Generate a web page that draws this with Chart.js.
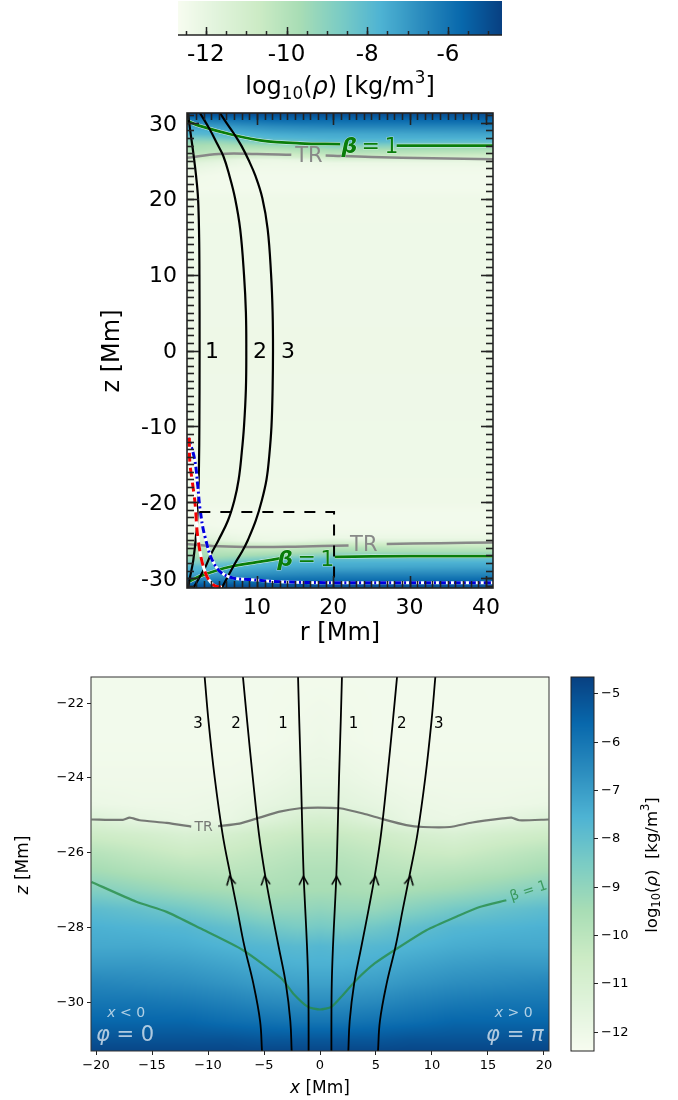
<!DOCTYPE html>
<html>
<head>
<meta charset="utf-8">
<title>Density</title>
<script src="https://cdn.jsdelivr.net/npm/chart.js@4/dist/chart.umd.min.js"></script>
<style>
    html, body { margin: 0; padding: 0; background: #fff; }
    #page { position: relative; width: 678px; height: 1100px; overflow: hidden; }
    canvas { position: absolute; }
</style>
</head>
<body>
<div id="page">
    <canvas id="cbarTop" style="left:0;top:0" width="678" height="105"></canvas>
    <canvas id="panelR" style="left:0;top:105px" width="678" height="545"></canvas>
    <canvas id="panelX" style="left:0;top:660px" width="560" height="440"></canvas>
    <canvas id="cbarSide" style="left:560px;top:660px" width="118" height="440"></canvas>
</div>
<script>
// Colormap (GnBu), low to high
const gnbuStops = ['#f7fcf0', '#e0f3db', '#ccebc5', '#a8ddb5', '#7bccc4', '#4eb3d3', '#2b8cbe', '#0868ac', '#084081'];

// log10(rho): one row per |z|, one column per r
const rhoR = [0, 2, 5, 8, 12, 16, 20, 41];
const rhoZ = [0, 20, 21.3, 23, 24, 24.7, 25.1, 25.5, 26, 26.5, 27, 27.5, 28, 28.5, 29, 29.5, 30, 30.5, 31, 31.4];
const rhoCells = [
    [-12.0, -12.0, -12.0, -12.0, -12.0, -12.0, -12.0, -12.0],
    [-12.05, -12.05, -12.05, -12.05, -12.05, -12.05, -12.05, -12.05],
    [-12.2, -12.2, -12.2, -12.2, -12.2, -12.2, -12.2, -12.2],
    [-12.0, -12.1, -12.2, -12.2, -12.2, -12.2, -12.2, -12.2],
    [-11.8, -11.8, -12.0, -12.1, -12.1, -12.1, -12.1, -12.1],
    [-11.5, -11.5, -11.7, -11.9, -12.0, -12.0, -11.9, -11.9],
    [-10.9, -11.0, -11.4, -11.8, -11.9, -11.7, -11.3, -11.6],
    [-10.4, -10.4, -10.6, -10.9, -11.1, -10.8, -10.6, -10.8],
    [-10.0, -10.0, -10.2, -10.4, -10.5, -10.2, -9.9, -10.2],
    [-9.7, -9.7, -9.9, -10.0, -9.9, -9.7, -9.4, -9.6],
    [-9.5, -9.5, -9.6, -9.5, -9.3, -9.0, -8.7, -8.8],
    [-9.0, -9.1, -9.1, -8.8, -8.4, -8.1, -7.9, -8.0],
    [-8.4, -8.5, -8.3, -8.0, -7.7, -7.6, -7.5, -7.5],
    [-7.7, -7.8, -7.7, -7.6, -7.4, -7.3, -7.3, -7.2],
    [-7.5, -7.5, -7.4, -7.2, -7.0, -6.9, -6.9, -6.8],
    [-7.1, -7.1, -7.0, -6.8, -6.6, -6.5, -6.4, -6.4],
    [-6.6, -6.6, -6.5, -6.3, -6.1, -6.0, -6.0, -5.9],
    [-6.0, -6.0, -5.9, -5.8, -5.6, -5.6, -5.6, -5.5],
    [-5.2, -5.2, -5.2, -5.1, -5.1, -5.1, -5.1, -5.1],
    [-4.7, -4.7, -4.7, -4.7, -4.7, -4.7, -4.7, -4.7]
];

// Ticks
const cbarTopTicks = [-12, -10, -8, -6];
const cbarSideTicks = [-12, -11, -10, -9, -8, -7, -6, -5];
const panelRTicksX = [10, 20, 30, 40];
const panelRTicksY = [-30, -20, -10, 0, 10, 20, 30];
const panelXTicksX = [-20, -15, -10, -5, 0, 5, 10, 15, 20];
const panelXTicksY = [-30, -28, -26, -24, -22];

// Upper panel, field lines
const line1Z = [31.3, 29, 26, 23, 20, 15, 10, 0, -10, -15, -20, -24, -27.6, -30, -31.3];
const line1R = [0.95, 1.25, 1.66, 2.02, 2.28, 2.42, 2.46, 2.48, 2.45, 2.4, 2.28, 2.05, 1.66, 1.2, 0.95];
const line2Z = [31.3, 29.1, 27.3, 25.6, 23, 20.1, 16, 10, 5, 0, -5, -10, -13.5, -17, -19.7, -22.4, -25, -27, -28.5, -31.3];
const line2R = [2.53, 3.84, 4.75, 5.6, 6.4, 7.12, 7.8, 8.3, 8.55, 8.6, 8.55, 8.3, 8.0, 7.6, 7.05, 6.2, 4.95, 3.9, 3.25, 1.66];
const line3Z = [31.3, 30, 28.7, 27, 25.1, 23, 20.1, 16, 10, 5, 0, -5, -10, -14, -17, -19.7, -22.4, -25, -26.5, -28, -31.3];
const line3R = [5.15, 6, 6.9, 7.95, 8.9, 9.8, 10.7, 11.4, 11.85, 12.05, 12.1, 12.05, 11.9, 11.6, 11.25, 10.65, 9.85, 8.8, 8.05, 7.15, 5.38];

// Upper panel, contours (null leaves the gap for the contour label)
const trTopR = [0.8, 5, 10, 14.5, null, 19, 25, 33, 41];
const trTopZ = [25.4, 25.9, 25.9, 25.8, null, 25.7, 25.5, 25.35, 25.2];
const trBottomR = [0.8, 5, 10, 15, 22, null, 27, 34, 41];
const trBottomZ = [-25.5, -25.8, -25.9, -25.85, -25.7, null, -25.5, -25.4, -25.3];
const betaTopR = [0.8, 2.5, 6.9, 10.4, 15.6, 20.9, null, 28.3, 41];
const betaTopZ = [30.3, 29.6, 28.4, 27.7, 27.3, 27.2, null, 27, 27];
const betaBottomR = [1.2, 2.9, 6.5, 10, 13, null, 20.2, 30, 41];
const betaBottomZ = [-30.4, -29.6, -28.5, -27.9, -27.4, null, -27.2, -27.1, -27.1];

// Upper panel, red and blue profiles
const redR = [1.13, 1.2, 1.53, 1.88, 2.3, 3.2, 4.28, 5.4];
const redZ = [-11.5, -14.7, -17.3, -20.1, -25, -29.2, -30.9, -31.2];
const blueR = [1.0, 1.8, 2.23, 2.53, 3.2, 4.5, 6.25, 9.3, 13.7, 20.5, 41];
const blueZ = [-11.5, -14.2, -17.7, -20.8, -24.6, -28.3, -29.8, -30.2, -30.5, -30.6, -30.6];
const boxR = [2.45, 20.1, 20.1];
const boxZ = [-21.3, -21.3, -31.3];

// Lower panel, field lines share the z values
const fieldZ = [-21.3, -22.5, -24, -25.5, -26.6, -27.5, -28.5, -29.5, -30.5, -31.3];
const fieldX1 = [1.96, 1.85, 1.7, 1.57, 1.46, 1.32, 1.16, 1.05, 1.02, 1.02];
const fieldX2 = [6.88, 6.5, 6.0, 5.45, 4.9, 4.35, 3.7, 3.05, 2.65, 2.53];
const fieldX3 = [10.3, 9.95, 9.4, 8.7, 8.0, 7.4, 6.75, 5.95, 5.35, 5.18];
const arrowX = [-8.0, -4.9, -1.47, 1.47, 4.9, 8.0];
const arrowZ = [-26.75, -26.75, -26.75, -26.75, -26.75, -26.75];
const arrowTilt = [-12, -8, -2, 2, 8, 12];

// Lower panel, contours
const trX = [-20.4, -17.6, -17, -16.1, -13.7, -11.5, null, -9.1, -7.2, -5.4, -3.6, -1.8, -0.2, 1.76, 3.84, 5.6, 7.7, 9.2, 11.6, 13.6, 16.3, 17.1, 17.8, 20.4];
const trZ = [-25.11, -25.12, -25.06, -25.13, -25.2, -25.3, null, -25.29, -25.22, -25.06, -24.9, -24.81, -24.79, -24.81, -24.95, -25.1, -25.26, -25.31, -25.31, -25.19, -25.08, -25.06, -25.13, -25.11];
const betaX = [-20.4, -16.4, -13.7, -10.7, -6.9, -3.45, -2.4, -1.07, 0, 1.02, 2.05, 3.25, 4.88, 6.67, 9.5, 12.47, 14.26, 16.64];
const betaZ = [-26.78, -27.31, -27.58, -28.02, -28.6, -29.36, -29.76, -30.12, -30.19, -30.12, -29.8, -29.4, -28.96, -28.6, -28.07, -27.67, -27.45, -27.27];

const FONT = '"DejaVu Sans"';
const zip = (xs, ys) => xs.map((x, i) => ({ x, y: ys[i] }));
const mirror = xs => xs.map(x => -x);

function hexRgb(h) {
    return [1, 3, 5].map(i => parseInt(h.slice(i, i + 2), 16));
}
const stopsRgb = gnbuStops.map(hexRgb);

function colorOf(v, vmin, vmax) {
    const t = Math.min(Math.max((v - vmin) / (vmax - vmin), 0), 1) * (stopsRgb.length - 1);
    const i = Math.min(Math.floor(t), stopsRgb.length - 2);
    const f = t - i;
    return stopsRgb[i].map((c, k) => c + (stopsRgb[i + 1][k] - c) * f);
}

function bracket(arr, v) {
    let i = 0;
    while (i < arr.length - 2 && v > arr[i + 1]) i++;
    const f = Math.min(Math.max((v - arr[i]) / (arr[i + 1] - arr[i]), 0), 1);
    return [i, f];
}

// Shade the table between its own cells, like pcolormesh gouraud
function rhoAt(x, z) {
    const [i, fi] = bracket(rhoR, Math.abs(x));
    const [j, fj] = bracket(rhoZ, Math.abs(z));
    const a = rhoCells[j][i] + (rhoCells[j][i + 1] - rhoCells[j][i]) * fi;
    const b = rhoCells[j + 1][i] + (rhoCells[j + 1][i + 1] - rhoCells[j + 1][i]) * fi;
    return a + (b - a) * fj;
}

// Paints the image under the axes through the chart's own scales
function fieldPlugin(valueAt, vmin, vmax) {
    return {
        id: 'field',
        beforeDraw(chart) {
            const { left, top, width, height } = chart.chartArea;
            const w = Math.round(width), h = Math.round(height);
            const off = document.createElement('canvas');
            off.width = w;
            off.height = h;
            const octx = off.getContext('2d');
            const img = octx.createImageData(w, h);
            for (let py = 0; py < h; py++) {
                const yv = chart.scales.y.getValueForPixel(top + py + 0.5);
                for (let px = 0; px < w; px++) {
                    const xv = chart.scales.x.getValueForPixel(left + px + 0.5);
                    const c = colorOf(valueAt(xv, yv), vmin, vmax);
                    const k = (py * w + px) * 4;
                    img.data[k] = c[0];
                    img.data[k + 1] = c[1];
                    img.data[k + 2] = c[2];
                    img.data[k + 3] = 255;
                }
            }
            octx.putImageData(img, 0, 0);
            chart.ctx.drawImage(off, left, top);
        }
    };
}

// Frame and the inward minor/major ticks matplotlib draws on the upper panel
function framePlugin(opts) {
    return {
        id: 'frame',
        afterDatasetsDraw(chart) {
            const { ctx, chartArea: a, scales } = chart;
            ctx.save();
            ctx.strokeStyle = opts.color || '#222';
            ctx.lineWidth = opts.lineWidth || 1;
            const seg = (x0, y0, x1, y1) => {
                ctx.beginPath();
                ctx.moveTo(x0, y0);
                ctx.lineTo(x1, y1);
                ctx.stroke();
            };
            const mark = (scale, step, isMajor) => {
                const len = isMajor ? opts.major : opts.minor;
                for (let v = Math.ceil(scale.min / step) * step; v <= scale.max; v += step) {
                    const p = Math.round(scale.getPixelForValue(v)) + 0.5;
                    if (scale.axis === 'x') {
                        seg(p, a.bottom, p, a.bottom - len);
                        if (opts.bothSides) seg(p, a.top, p, a.top + len);
                    } else {
                        seg(a.left, p, a.left + len, p);
                        seg(a.right, p, a.right - len, p);
                    }
                }
            };
            if (opts.stepX) {
                mark(scales.x, opts.stepX[0], false);
                mark(scales.x, opts.stepX[1], true);
            }
            if (opts.stepY) {
                mark(scales.y, opts.stepY[0], false);
                mark(scales.y, opts.stepY[1], true);
            }
            ctx.lineWidth = opts.lineWidth || 1;
            if (opts.bottomOnly) {
                seg(a.left, a.bottom, a.right, a.bottom);
            } else {
                ctx.strokeRect(a.left, a.top, a.width, a.height);
            }
            ctx.restore();
        }
    };
}

// Mixed-style text: runs may be italic, bold, sub- or superscript
function drawRuns(ctx, item, x, y) {
    const size = item.size;
    const fontOf = r => `${r.it ? 'italic ' : ''}${r.bold ? 'bold ' : ''}${(r.sub || r.sup) ? size * 0.7 : size}px ${FONT}`;
    let total = 0;
    item.runs.forEach(r => {
        ctx.font = fontOf(r);
        total += ctx.measureText(r.t).width;
    });
    ctx.save();
    ctx.translate(x, y);
    ctx.rotate((item.rot || 0) * Math.PI / 180);
    ctx.textBaseline = 'middle';
    ctx.textAlign = 'left';
    let cx = -total / 2;
    const base = size * 0.08;   // digits sit above the em-box middle
    item.runs.forEach(r => {
        ctx.font = fontOf(r);
        const dy = base + (r.sub ? size * 0.28 : r.sup ? -size * 0.38 : 0);
        if (item.halo) {
            ctx.strokeStyle = item.halo;
            ctx.lineWidth = 1;
            ctx.strokeText(r.t, cx, dy);
        }
        ctx.fillStyle = item.color || '#000';
        ctx.fillText(r.t, cx, dy);
        cx += ctx.measureText(r.t).width;
    });
    ctx.restore();
}

// dataLabels sit at data coordinates, axisLabels at canvas pixels
function textPlugin(dataLabels, axisLabels) {
    return {
        id: 'texts',
        afterDatasetsDraw(chart) {
            const { ctx, scales } = chart;
            dataLabels.forEach(d => drawRuns(ctx, d, scales.x.getPixelForValue(d.x), scales.y.getPixelForValue(d.y)));
            axisLabels.forEach(d => drawRuns(ctx, d, d.px, d.py));
        }
    };
}

function axis(opts) {
    return {
        type: 'linear',
        position: opts.position,
        min: opts.min,
        max: opts.max,
        display: opts.hidden ? false : true,
        border: { display: false },
        grid: opts.tickLength
            ? { display: true, drawOnChartArea: false, drawTicks: true, tickLength: opts.tickLength, tickColor: '#222', lineWidth: 1 }
            : { display: false, drawTicks: false },
        ticks: {
            color: '#000',
            padding: opts.padding,
            labelOffset: opts.labelOffset || 0,
            autoSkip: false,
            maxRotation: 0,
            font: { family: 'DejaVu Sans', size: opts.fontSize },
            callback: v => (v < 0 && opts.unicodeMinus) ? '\u2212' + Math.abs(v) : String(v)
        },
        afterBuildTicks: s => { if (opts.ticks) s.ticks = opts.ticks.map(value => ({ value })); },
        afterFit: s => {
            if (opts.width !== undefined) s.width = opts.width;
            if (opts.height !== undefined) s.height = opts.height;
            // labels may hang over the plot edge, the plot area stays fixed
            s.paddingTop = s.paddingBottom = s.paddingLeft = s.paddingRight = 0;
        }
    };
}

function makeChart(id, padding, x, y, datasets, plugins) {
    return new Chart(document.getElementById(id), {
        type: 'scatter',
        data: { datasets },   // first dataset ends up on top
        plugins,
        options: {
            responsive: false,
            animation: false,
            devicePixelRatio: 1,
            events: [],
            layout: { padding },
            plugins: { legend: { display: false }, tooltip: { enabled: false }, title: { display: false } },
            scales: { x, y }
        }
    });
}

function curve(xs, ys, color, width, extra) {
    return Object.assign({
        data: zip(xs, ys),
        showLine: true,
        spanGaps: false,
        borderColor: color,
        backgroundColor: color,
        borderWidth: width,
        pointRadius: 0,
        tension: 0.4
    }, extra || {});
}

// --- Top colorbar ---
makeChart('cbarTop', { left: 178, right: 176, top: 1, bottom: 0 },
    axis({ position: 'bottom', min: -12.69, max: -4.66, ticks: cbarTopTicks, height: 70, padding: 6, fontSize: 23 }),
    axis({ position: 'left', min: 0, max: 1, hidden: true }),
    [],
    [
        fieldPlugin(x => x, -12.69, -4.66),
        framePlugin({ bottomOnly: true, color: '#222', lineWidth: 1.5, stepX: [0.5, 2], minor: 4, major: 8 }),
        textPlugin([], [{
            px: 340, py: 86, size: 24,
            runs: [{ t: 'log' }, { t: '10', sub: true }, { t: '(' }, { t: 'ρ', it: true }, { t: ') [kg/m' }, { t: '3', sup: true }, { t: ']' }]
        }])
    ]);

// --- Upper panel, r against z ---
const thin = '\u2009';
makeChart('panelR', { left: 0, right: 185, top: 8, bottom: 0 },
    axis({ position: 'bottom', min: 0.83, max: 40.93, ticks: panelRTicksX, height: 62, padding: 7, fontSize: 22 }),
    axis({ position: 'left', min: -31.3, max: 31.3, ticks: panelRTicksY, width: 187, padding: 10, fontSize: 22, labelOffset: 2 }),
    [
        curve(boxR, boxZ, '#000', 2, { borderDash: [11, 10], tension: 0 }),
        curve(redR, redZ, '#f00000', 3, { borderDash: [9, 6] }),
        curve(redR, redZ, '#fff', 3),
        curve(blueR, blueZ, '#0000dd', 3, { borderDash: [7, 3, 2, 3] }),
        curve(blueR, blueZ, '#fff', 3),
        curve(line1R, line1Z, '#000', 2.2),
        curve(line2R, line2Z, '#000', 2.2),
        curve(line3R, line3Z, '#000', 2.2),
        curve(betaTopR, betaTopZ, '#0a7d0a', 2.8),
        curve(betaTopR, betaTopZ, 'rgba(255,255,255,0.8)', 3.8),
        curve(betaBottomR, betaBottomZ, '#0a7d0a', 2.8),
        curve(betaBottomR, betaBottomZ, 'rgba(255,255,255,0.8)', 3.8),
        curve(trTopR, trTopZ, '#888', 2.5),
        curve(trBottomR, trBottomZ, '#888', 2.5)
    ],
    [
        fieldPlugin(rhoAt, -12.4, -4.65),
        framePlugin({ color: '#222', lineWidth: 1.6, bothSides: true, stepX: [1, 10], stepY: [1, 10], minor: 7, major: 12 }),
        textPlugin([
            { x: 4.1, y: 0, size: 22, runs: [{ t: '1' }] },
            { x: 10.4, y: 0, size: 22, runs: [{ t: '2' }] },
            { x: 14.07, y: 0, size: 22, runs: [{ t: '3' }] },
            { x: 16.8, y: 25.8, size: 21, color: '#888', runs: [{ t: 'TR' }] },
            { x: 24, y: -25.5, size: 21, color: '#888', runs: [{ t: 'TR' }] },
            { x: 24.8, y: 27, size: 22, color: '#0a7d0a', halo: 'rgba(255,255,255,0.5)', runs: [{ t: 'β', it: true, bold: true }, { t: thin + '=' + thin + '1' }] },
            { x: 16.4, y: -27.4, size: 22, color: '#0a7d0a', halo: 'rgba(255,255,255,0.5)', runs: [{ t: 'β', it: true, bold: true }, { t: thin + '=' + thin + '1' }] }
        ], [
            { px: 340, py: 527, size: 24, runs: [{ t: 'r [Mm]' }] },
            { px: 111, py: 246, size: 24, rot: -90, runs: [{ t: 'z [Mm]' }] }
        ])
    ]);

// --- Lower panel, zoom on the footpoint ---
const arrowHead = document.createElement('canvas');
arrowHead.width = 11;
arrowHead.height = 11;
const ahCtx = arrowHead.getContext('2d');
ahCtx.strokeStyle = '#000';
ahCtx.lineWidth = 1.6;
ahCtx.beginPath();
ahCtx.moveTo(1, 9.5);
ahCtx.lineTo(5.5, 1);
ahCtx.lineTo(10, 9.5);
ahCtx.stroke();

const faint = 'rgba(255,255,255,0.68)';
makeChart('panelX', { left: 0, right: 11, top: 17, bottom: 0 },
    axis({ position: 'bottom', min: -20.45, max: 20.45, ticks: panelXTicksX, height: 49, padding: 3, fontSize: 13, tickLength: 4, unicodeMinus: true }),
    axis({ position: 'left', min: -31.3, max: -21.3, ticks: panelXTicksY, width: 91, padding: 3, fontSize: 13, tickLength: 4, unicodeMinus: true }),
    [
        { data: zip(arrowX, arrowZ), pointStyle: arrowHead, rotation: arrowTilt, pointRadius: 5, showLine: false },
        curve(fieldX1, fieldZ, '#000', 1.8),
        curve(fieldX2, fieldZ, '#000', 1.8),
        curve(fieldX3, fieldZ, '#000', 1.8),
        curve(mirror(fieldX1), fieldZ, '#000', 1.8),
        curve(mirror(fieldX2), fieldZ, '#000', 1.8),
        curve(mirror(fieldX3), fieldZ, '#000', 1.8),
        curve(trX, trZ, 'rgba(90,90,90,0.8)', 2.2, { tension: 0.2 }),
        curve(betaX, betaZ, 'rgba(40,140,70,0.8)', 2.2, { tension: 0.2 })
    ],
    [
        fieldPlugin(rhoAt, -12.4, -4.65),
        framePlugin({ color: '#333', lineWidth: 1 }),
        textPlugin([
            { x: -10.9, y: -22.52, size: 15, runs: [{ t: '3' }] },
            { x: -7.5, y: -22.52, size: 15, runs: [{ t: '2' }] },
            { x: -3.3, y: -22.52, size: 15, runs: [{ t: '1' }] },
            { x: 3.0, y: -22.52, size: 15, runs: [{ t: '1' }] },
            { x: 7.3, y: -22.52, size: 15, runs: [{ t: '2' }] },
            { x: 10.6, y: -22.52, size: 15, runs: [{ t: '3' }] },
            { x: -10.4, y: -25.28, size: 14, color: 'rgba(90,90,90,0.8)', runs: [{ t: 'TR' }] },
            { x: 18.6, y: -27.0, size: 14, rot: -18, color: 'rgba(40,140,70,0.8)', runs: [{ t: 'β = 1' }] },
            { x: -17.3, y: -30.27, size: 14, color: faint, runs: [{ t: 'x', it: true }, { t: ' < 0' }] },
            { x: 17.3, y: -30.27, size: 14, color: faint, runs: [{ t: 'x', it: true }, { t: ' > 0' }] },
            { x: -17.4, y: -30.85, size: 21, color: faint, runs: [{ t: 'φ', it: true }, { t: ' = 0' }] },
            { x: 17.4, y: -30.85, size: 21, color: faint, runs: [{ t: 'φ', it: true }, { t: ' = ' }, { t: 'π', it: true }] }
        ], [
            { px: 320, py: 427, size: 17, runs: [{ t: 'x', it: true }, { t: ' [Mm]' }] },
            { px: 22, py: 205, size: 17, rot: -90, runs: [{ t: 'z', it: true }, { t: ' [Mm]' }] }
        ])
    ]);

// --- Side colorbar ---
makeChart('cbarSide', { left: 11, right: 0, top: 17, bottom: 49 },
    axis({ position: 'bottom', min: 0, max: 1, hidden: true }),
    axis({ position: 'right', min: -12.39, max: -4.65, ticks: cbarSideTicks, width: 84, padding: 3, fontSize: 13, tickLength: 4, unicodeMinus: true }),
    [],
    [
        fieldPlugin((x, y) => y, -12.39, -4.65),
        framePlugin({ color: '#222', lineWidth: 1 }),
        textPlugin([], [{
            px: 91, py: 205, size: 16.5, rot: -90,
            runs: [{ t: 'log' }, { t: '10', sub: true }, { t: '(' }, { t: 'ρ', it: true }, { t: ')  [kg/m' }, { t: '3', sup: true }, { t: ']' }]
        }])
    ]);
</script>
</body>
</html>
